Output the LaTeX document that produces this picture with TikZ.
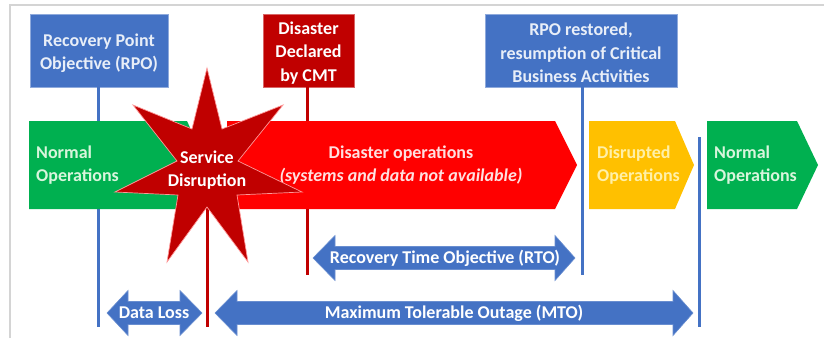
\documentclass[tikz,border=0pt]{standalone}
\usepackage{fontspec}
\setmainfont{Carlito}
\definecolor{cblue}{HTML}{4472C4}
\definecolor{cgreen}{HTML}{00B050}
\definecolor{cred}{HTML}{FF0000}
\definecolor{cdred}{HTML}{C00000}
\definecolor{cyellow}{HTML}{FFC000}
\definecolor{cframe}{HTML}{D4D4D4}
\definecolor{tblue}{HTML}{E8EEF8}
\definecolor{tgreen}{HTML}{D8F5DC}
\definecolor{tred}{HTML}{FFE0E0}
\definecolor{tyellow}{HTML}{FFF0A8}
\begin{document}
\begin{tikzpicture}[x=1pt,y=-1pt,
  txt/.style={font=\fontsize{18}{23.5}\selectfont\bfseries, inner sep=0pt},
  topbox/.style={minimum height=73pt, inner sep=0pt},
  boxtext/.style={txt, align=center, yshift=-2.5pt},
  vline/.style={line width=3pt},
  lbl/.style={txt, align=left, anchor=west},
  blockarrow/.style={fill=cblue, draw=cblue!80!white, line width=0.6pt}
]
\useasboundingbox (0,0) rectangle (824,338);
% frame
\draw[cframe, line width=1.5pt] (10,338) -- (10,5) -- (824,5);

% top boxes
\node[topbox, fill=cblue, draw=cblue!60!white, minimum width=138pt] (rpo) at (99,50.5) {};
\node[boxtext, text=tblue] (rpot) at (rpo.center) {Recovery Point\\Objective (RPO)};
\node[topbox, fill=cdred, draw=cdred!60!white, minimum width=91pt] (cmt) at (308.5,50.5) {};
\node[boxtext, text=white] (cmtt) at (cmt.center) {Disaster\\Declared\\by CMT};
\node[topbox, fill=cblue, draw=cblue!60!white, minimum width=192pt] (res) at (581,50.5) {};
\node[boxtext, text=tblue] (rest) at (res.center) {RPO restored,\\resumption of Critical\\Business Activities};

% vertical markers
\coordinate (rpoend) at (98,327);
\coordinate (cmtend) at (307,275);
\coordinate (resend) at (582,275);
\coordinate (sepA) at (699,137);
\coordinate (sepB) at (699,327);
\coordinate (stc) at (207,190);
\coordinate (sdend) at (207,327);
\draw[vline, cblue] (rpo.south -| rpoend) -- (rpoend);
\draw[vline, cdred] (cmt.south -| cmtend) -- (cmtend);
\draw[vline, cblue] (res.south -| resend) -- (resend);
\draw[vline, cblue] (sepA) -- (sepB);
\draw[vline, cdred] (stc) -- (sdend);

% phase arrows
\fill[cgreen] (29,121) -- (187,121) -- (207,165) -- (187,209) -- (29,209) -- cycle;
\fill[cred] (227,121) -- (555,121) -- (577,165) -- (555,209) -- (227,209) -- cycle;
\fill[cyellow] (589,121) -- (675,121) -- (694,165) -- (675,209) -- (589,209) -- cycle;
\fill[cgreen] (707,121) -- (797,121) -- (818,165) -- (797,209) -- (707,209) -- cycle;

\node[lbl, text=tgreen] (norm1) at (36,165) {Normal\\Operations};
\node[txt, align=center, text=tred] (dis) at (401,165) {Disaster operations\\\textit{(systems and data not available)}};
\node[lbl, text=tyellow] (disr) at (597,165) {Disrupted\\Operations};
\node[lbl, text=tgreen] (norm2) at (714,165) {Normal\\Operations};

% star
\draw[fill=cdred, draw=cred!40!white, line width=0.7pt, line join=miter]
  (207,68) -- (222,129) -- (283,105) -- (238,161) -- (302,192) -- (237,195) -- (248,262)
  -- (207,207) -- (167,262) -- (178,195) -- (115,192) -- (177,161) -- (133,105) -- (192,129) -- cycle;
\node[txt, align=center, text=white] (sd) at (207,170) {Service\\Disruption};

% duration arrows
\draw[blockarrow] (313,258) -- (335,235.5) -- (335,246.5) -- (555,246.5) -- (555,235.5) -- (575,258)
  -- (555,280.5) -- (555,269.5) -- (335,269.5) -- (335,280.5) -- cycle;
\node[txt, text=white] (rto) at (445,258) {Recovery Time Objective (RTO)};

\draw[blockarrow] (215,313) -- (237,290.5) -- (237,301.5) -- (673,301.5) -- (673,290.5) -- (693,313)
  -- (673,335.5) -- (673,324.5) -- (237,324.5) -- (237,335.5) -- cycle;
\node[txt, text=white] (mto) at (454,313) {Maximum Tolerable Outage (MTO)};

\draw[blockarrow] (107,313) -- (128,290.5) -- (128,301.5) -- (180,301.5) -- (180,290.5) -- (202,313)
  -- (180,335.5) -- (180,324.5) -- (128,324.5) -- (128,335.5) -- cycle;
\node[txt, text=white] (dl) at (154,313) {Data Loss};
\end{tikzpicture}
\end{document}
